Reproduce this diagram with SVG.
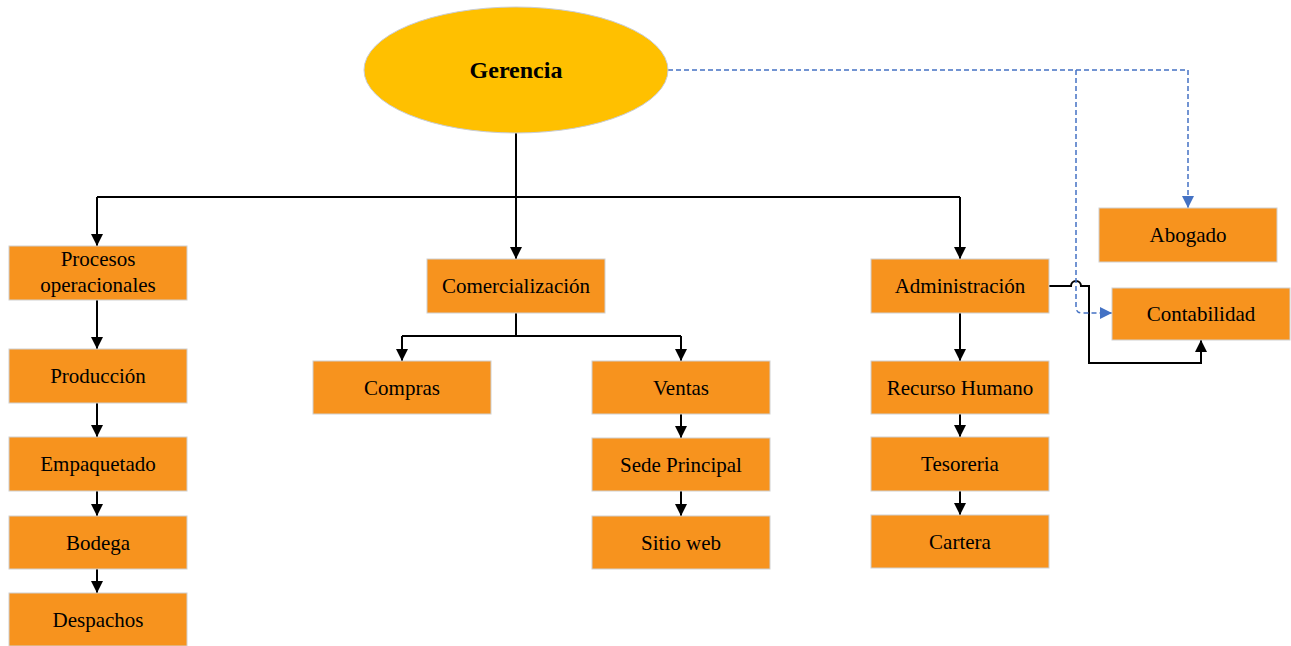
<svg xmlns="http://www.w3.org/2000/svg" width="1291" height="646" viewBox="0 0 1291 646">
  <style>
    .box { fill: #F7931E; stroke: #D0D0D0; stroke-width: 1; }
    .lbl { font-family: "Liberation Serif", "Times New Roman", serif; font-size: 21px; fill: #000; text-anchor: middle; }
    .title { font-family: "Liberation Serif", "Times New Roman", serif; font-size: 24px; font-weight: bold; fill: #000; text-anchor: middle; }
    .link { fill: none; stroke: #000; stroke-width: 2; }
    .dash { fill: none; stroke: #4472C4; stroke-width: 1.5; stroke-dasharray: 5 3; }
  </style>
  <defs>
    <marker id="arrow" viewBox="0 0 10 10" refX="10" refY="5" markerWidth="12" markerHeight="12" markerUnits="userSpaceOnUse" orient="auto">
      <path d="M0,0 L10,5 L0,10 z" fill="#000"/>
    </marker>
    <marker id="arrowBlue" viewBox="0 0 10 10" refX="10" refY="5" markerWidth="12" markerHeight="12" markerUnits="userSpaceOnUse" orient="auto">
      <path d="M0,0 L10,5 L0,10 z" fill="#4472C4"/>
    </marker>
  </defs>

  <!-- connectors -->
  <g id="connectors">
    <!-- top-level tree -->
    <path class="link" d="M516,132 V197"/>
    <path class="link" d="M97,197 H960"/>
    <path class="link" d="M97,197 V246" marker-end="url(#arrow)"/>
    <path class="link" d="M516,197 V259" marker-end="url(#arrow)"/>
    <path class="link" d="M960,197 V259" marker-end="url(#arrow)"/>
    <!-- operations column -->
    <path class="link" d="M97,300 V349" marker-end="url(#arrow)"/>
    <path class="link" d="M97,403 V437" marker-end="url(#arrow)"/>
    <path class="link" d="M97,491 V516" marker-end="url(#arrow)"/>
    <path class="link" d="M97,569 V593" marker-end="url(#arrow)"/>
    <!-- commercial branch -->
    <path class="link" d="M516,313 V336"/>
    <path class="link" d="M402,336 H681"/>
    <path class="link" d="M402,336 V361" marker-end="url(#arrow)"/>
    <path class="link" d="M681,336 V361" marker-end="url(#arrow)"/>
    <path class="link" d="M681,414 V438" marker-end="url(#arrow)"/>
    <path class="link" d="M681,491 V516" marker-end="url(#arrow)"/>
    <!-- administration column -->
    <path class="link" d="M960,313 V361" marker-end="url(#arrow)"/>
    <path class="link" d="M960,414 V437" marker-end="url(#arrow)"/>
    <path class="link" d="M960,491 V515" marker-end="url(#arrow)"/>
    <!-- administration to accounting, hopping over the dashed line -->
    <path class="link" d="M1049,286 H1071 A5,5 0 0 1 1081,286 H1089 V363 H1201 V340" marker-end="url(#arrow)"/>
    <!-- advisory (dashed) lines -->
    <path class="dash" d="M668,70 H1188 V208" marker-end="url(#arrowBlue)"/>
    <path class="dash" d="M1076,70 V307 Q1076,313 1082,313 H1112" marker-end="url(#arrowBlue)"/>
  </g>

  <g id="gerencia">
    <ellipse cx="516" cy="70" rx="152" ry="63" fill="#FFC000" stroke="#C9CDD6" stroke-width="1"/>
    <text class="title" x="516" y="78">Gerencia</text>
  </g>

  <g id="procesos">
    <rect class="box" x="9" y="246" width="178" height="54"/>
    <text class="lbl" x="98" y="266">Procesos</text>
    <text class="lbl" x="98" y="292">operacionales</text>
  </g>
  <g id="produccion">
    <rect class="box" x="9" y="349" width="178" height="54"/>
    <text class="lbl" x="98" y="383">Producción</text>
  </g>
  <g id="empaquetado">
    <rect class="box" x="9" y="437" width="178" height="54"/>
    <text class="lbl" x="98" y="471">Empaquetado</text>
  </g>
  <g id="bodega">
    <rect class="box" x="9" y="516" width="178" height="53"/>
    <text class="lbl" x="98" y="550">Bodega</text>
  </g>
  <g id="despachos">
    <rect class="box" x="9" y="593" width="178" height="53"/>
    <text class="lbl" x="98" y="627">Despachos</text>
  </g>

  <g id="comercializacion">
    <rect class="box" x="427" y="259" width="178" height="54"/>
    <text class="lbl" x="516" y="293">Comercialización</text>
  </g>
  <g id="compras">
    <rect class="box" x="313" y="361" width="178" height="53"/>
    <text class="lbl" x="402" y="395">Compras</text>
  </g>
  <g id="ventas">
    <rect class="box" x="592" y="361" width="178" height="53"/>
    <text class="lbl" x="681" y="395">Ventas</text>
  </g>
  <g id="sede-principal">
    <rect class="box" x="592" y="438" width="178" height="53"/>
    <text class="lbl" x="681" y="472">Sede Principal</text>
  </g>
  <g id="sitio-web">
    <rect class="box" x="592" y="516" width="178" height="53"/>
    <text class="lbl" x="681" y="550">Sitio web</text>
  </g>

  <g id="administracion">
    <rect class="box" x="871" y="259" width="178" height="54"/>
    <text class="lbl" x="960" y="293">Administración</text>
  </g>
  <g id="recurso-humano">
    <rect class="box" x="871" y="361" width="178" height="53"/>
    <text class="lbl" x="960" y="395">Recurso Humano</text>
  </g>
  <g id="tesoreria">
    <rect class="box" x="871" y="437" width="178" height="54"/>
    <text class="lbl" x="960" y="471">Tesoreria</text>
  </g>
  <g id="cartera">
    <rect class="box" x="871" y="515" width="178" height="53"/>
    <text class="lbl" x="960" y="549">Cartera</text>
  </g>

  <g id="abogado">
    <rect class="box" x="1099" y="208" width="178" height="54"/>
    <text class="lbl" x="1188" y="242">Abogado</text>
  </g>
  <g id="contabilidad">
    <rect class="box" x="1112" y="288" width="178" height="52"/>
    <text class="lbl" x="1201" y="321">Contabilidad</text>
  </g>
</svg>
